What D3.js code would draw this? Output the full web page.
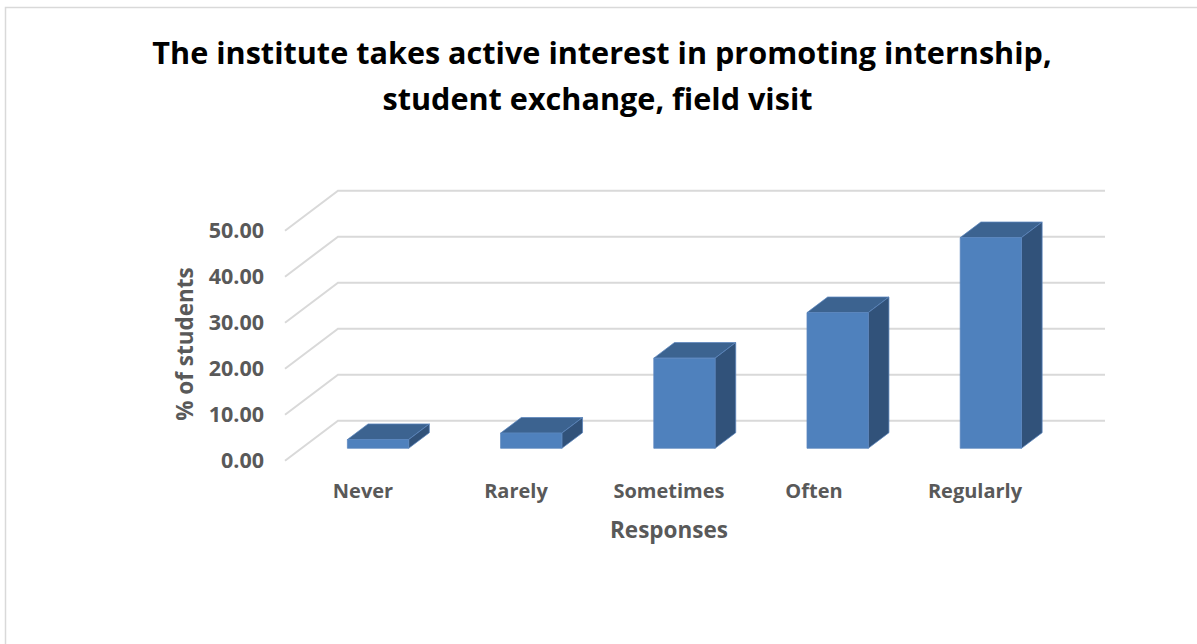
<!DOCTYPE html>
<html><head><meta charset="utf-8">
<script src="https://cdnjs.cloudflare.com/ajax/libs/d3/7.8.5/d3.min.js"></script>
<style>html,body{margin:0;padding:0;background:#fff;overflow:hidden}svg{display:block}text{font-family:"Open Sans",sans-serif;font-weight:700}</style>
</head><body><svg id="c" width="1197" height="644"></svg>
<script>
const categories = ["Never","Rarely","Sometimes","Often","Regularly"];
const values = [1.9,3.3,19.6,29.5,45.8];
const yTicks = [0,10,20,30,40,50];
const titleLines = ["The institute takes active interest in promoting internship,","student exchange, field visit"];

const svg = d3.select("#c");
const x = d3.scaleBand().domain(categories).range([285,1051]).paddingInner(0.6).paddingOuter(0.3);
const y = d3.scaleLinear().domain([0,50]).range([460.7,230.7]);
const depth = {dx:53, dy:-40};
const P = (px,v,d)=>[px+depth.dx*d, y(v)+depth.dy*d];
const frontD = 0.31, backD = 0.70;

svg.append("path").attr("d","M5.5 644V7.5H1197").attr("fill","none").attr("stroke","#d9d9d9").attr("stroke-width",1.5);

const titleX = [602,597.5];
svg.selectAll(".title").data(titleLines).join("text").attr("class","title")
  .attr("x",(d,i)=>titleX[i]).attr("y",(d,i)=>64+i*46).attr("text-anchor","middle")
  .attr("font-size",30.6).attr("fill","#000").text(d=>d);

const grid = svg.append("g").attr("fill","none").attr("stroke","#d9d9d9").attr("stroke-width",2);
yTicks.forEach(t=>{
  const a=P(285,t,0), b=P(285,t,1);
  grid.append("path").attr("d",d3.line()([a,b,[1105,b[1]]]));
});

svg.selectAll(".yt").data(yTicks).join("text").attr("class","yt")
  .attr("x",264).attr("y",t=>y(t)+7).attr("text-anchor","end")
  .attr("font-size",21.5).attr("fill","#595959").text(t=>d3.format(".2f")(t));

const bars = svg.append("g");
categories.forEach((c,i)=>{
  const l=x(c), r=l+x.bandwidth(), v=values[i];
  const poly=(pts,fill)=>bars.append("polygon").attr("points",pts.map(p=>p.join(",")).join(" ")).attr("fill",fill).attr("stroke","#5b86bd").attr("stroke-width",0.75);
  poly([P(l,v,frontD),P(r,v,frontD),P(r,v,backD),P(l,v,backD)],"#3c6390");
  poly([P(r,0,frontD),P(r,v,frontD),P(r,v,backD),P(r,0,backD)],"#31527a");
  poly([P(l,0,frontD),P(r,0,frontD),P(r,v,frontD),P(l,v,frontD)],"#4f81bd");
});

const labelX = [363,516,669,814,975];
svg.selectAll(".xt").data(categories).join("text").attr("class","xt")
  .attr("x",(d,i)=>labelX[i]).attr("y",498).attr("text-anchor","middle")
  .attr("font-size",20).attr("fill","#595959").text(d=>d);

svg.append("text").attr("x",669).attr("y",538).attr("text-anchor","middle")
  .attr("font-size",22.5).attr("fill","#595959").text("Responses");
svg.append("text").attr("transform","translate(193,344) rotate(-90)").attr("text-anchor","middle")
  .attr("font-size",22.5).attr("fill","#595959").text("% of students");
</script></body></html>
